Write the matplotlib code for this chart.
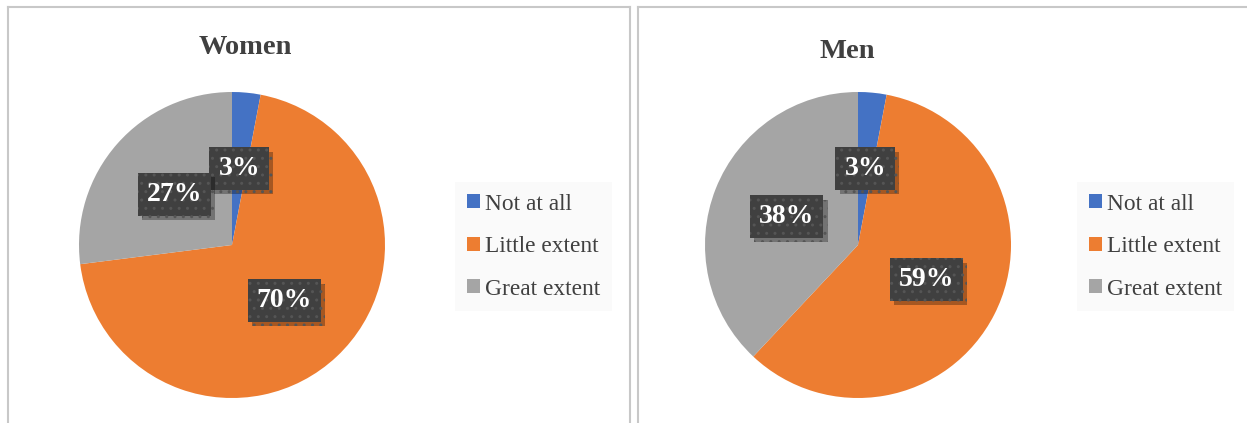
import matplotlib
matplotlib.use("Agg")
import matplotlib.pyplot as plt
from matplotlib.lines import Line2D
from matplotlib.patches import Patch
import matplotlib.patheffects as pe

categories = ["Not at all", "Little extent", "Great extent"]
women_values = [3, 70, 27]
men_values = [3, 59, 38]
titles = ["Women", "Men"]
colors = ["#4472C4", "#ED7D31", "#A5A5A5"]

W, H = 1247, 423
fig = plt.figure(figsize=(W / 100, H / 100), dpi=100)
fig.patch.set_facecolor("white")
plt.rcParams["font.family"] = ["Liberation Serif", "DejaVu Serif"]
plt.rcParams["hatch.linewidth"] = 1.0

def fx(x):
    return x / W

def fy(y):
    return 1 - y / H

# panel borders
border = "#c8c8c8"
for (x0, x1) in [(7.5, 630), (638, 1247)]:
    fig.add_artist(Line2D([fx(x0), fx(x0)], [fy(7), fy(H)], color=border, lw=1.5, transform=fig.transFigure))
    fig.add_artist(Line2D([fx(x0), fx(x1)], [fy(7), fy(7)], color=border, lw=1.5, transform=fig.transFigure))
    if x1 < W:
        fig.add_artist(Line2D([fx(x1), fx(x1)], [fy(7), fy(H)], color=border, lw=1.5, transform=fig.transFigure))

panels = [
    dict(values=women_values, cx=232, cy=245, title_x=245, title_y=48, leg_x=455),
    dict(values=men_values, cx=858, cy=245, title_x=847, title_y=51, leg_x=1077),
]
R = 153

for title, p in zip(titles, panels):
    ax = fig.add_axes([fx(p["cx"] - R), fy(p["cy"] + R), 2 * R / W, 2 * R / H])
    wedges, texts, autotexts = ax.pie(
        p["values"], colors=colors, startangle=90, counterclock=False,
        radius=1, autopct=lambda v: f"{v:.0f}%", pctdistance=0.5,
        wedgeprops=dict(linewidth=0),
        textprops=dict(color="white", fontsize=20, fontweight="bold"),
    )
    ax.set_xlim(-1, 1)
    ax.set_ylim(-1, 1)
    ax.set_aspect("equal")
    ax.axis("off")
    for t in autotexts:
        t.set_bbox(dict(boxstyle="square,pad=0.32", facecolor="#404040",
                        edgecolor="#555555", linewidth=0, hatch=".."))
        t.get_bbox_patch().set_path_effects([
            pe.SimplePatchShadow(offset=(3, -3), shadow_rgbFace="black", alpha=0.3),
            pe.Normal(),
        ])
    fig.text(fx(p["title_x"]), fy(p["title_y"]), title, ha="center", va="center",
             fontsize=20.5, fontweight="bold", color="#404040")
    handles = [Patch(facecolor=c, edgecolor="none") for c in colors]
    leg = fig.legend(handles, categories, loc="upper left",
                     bbox_to_anchor=(fx(p["leg_x"]), fy(182)),
                     bbox_transform=fig.transFigure, borderaxespad=0,
                     frameon=True, fancybox=False, facecolor="#fafafa", edgecolor="none",
                     framealpha=1, fontsize=16.8, labelcolor="#404040",
                     handlelength=0.55, handleheight=0.55, handletextpad=0.25,
                     labelspacing=0.92, borderpad=0.5)

fig.savefig("out.png", dpi=100, facecolor="white")
